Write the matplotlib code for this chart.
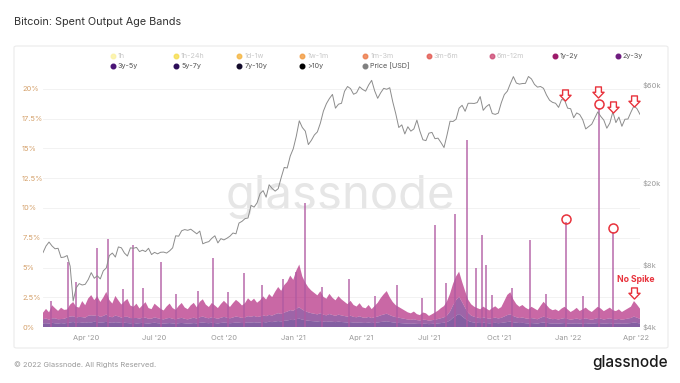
import pandas as pd
import matplotlib
matplotlib.use('Agg')
import matplotlib.pyplot as plt
from matplotlib.lines import Line2D
from matplotlib.path import Path
from matplotlib.patches import FancyBboxPatch
from matplotlib.ticker import FixedLocator, NullLocator

plt.rcParams['font.family'] = ['Inter', 'DejaVu Sans']

# ---- DATA ----
start_date = '2020-02-04'   # first sample, one sample every 4 days

price_usd = [
    9200, 9900, 10350, 9900, 9600, 9650, 8700,
    8750, 8900, 7900, 5350, 6200, 6500, 6400, 6450,
    6800, 7350, 6900, 7100, 6850, 7500, 7750,
    8900, 9150, 8750, 9800, 9700, 9150, 8850, 9700,
    9650, 9750, 9300, 9450, 9300, 9650, 9000,
    9220, 9070, 9230, 9250, 9150, 9380, 9700, 11100,
    11050, 11750, 11900, 11800, 11950, 11650, 11350, 11700,
    10150, 10300, 10400, 10800, 11100, 10250, 10750,
    10600, 10800, 11050, 11450, 11350, 12800, 13050, 13450,
    13550, 15600, 15300, 16050, 17800, 18400, 17100, 19650,
    18850, 18300, 18800, 21300, 23850, 23700, 27100,
    29400, 33800, 40200, 37300, 35800, 30800, 32300, 34300,
    35500, 39200, 44800, 48700, 51600, 54000, 46300,
    48400, 48900, 55900, 59000, 57600, 54100, 55000, 58800,
    57100, 56000, 60000, 63200, 56200, 51700, 55000,
    57800, 57200, 58200, 49700, 43500, 37300, 38400, 34700,
    37600, 35800, 36700, 40500, 35800, 32500, 32200, 35000,
    35300, 32900, 33100, 31500, 29800, 34300, 40000,
    39900, 40900, 46300, 47800, 44700, 48900, 48900, 48800,
    49300, 52700, 45200, 47100, 48300, 43600, 43200, 43800,
    49200, 53900, 56000, 60900, 65900, 61300, 60600,
    61000, 61100, 66000, 64200, 60400, 58600, 59000, 57800,
    53600, 50600, 49400, 48900, 46700, 51000, 50600, 46300,
    46000, 41600, 43900, 43100, 40700, 36700, 37700,
    38700, 41400, 44400, 42200, 40500, 37000, 39200,
    44400, 39400, 41900, 37800, 40900, 41000, 44300, 47500,
    46000, 43200,
]

# share of spent outputs per age band, % (same 4-day samples)
age_1y_2y = [
    0.55, 0.80, 0.62, 1.10, 0.85, 0.70, 0.95, 0.75, 0.68, 1.00,
    1.20, 0.90, 0.78, 1.35, 1.05, 1.45, 1.70, 1.30, 1.60, 1.25,
    1.55, 1.90, 1.40, 1.15, 1.65, 1.35, 1.10, 1.30, 1.50, 1.05,
    0.95, 1.20, 0.85, 1.05, 1.30, 0.90, 0.80, 1.15, 1.00, 0.85,
    0.75, 1.00, 1.20, 0.90, 0.80, 1.05, 1.25, 0.95, 0.85, 1.10,
    1.25, 0.95, 1.30, 1.45, 1.10, 0.95, 1.20, 1.05, 0.90, 1.15,
    1.35, 1.15, 0.95, 1.20, 1.40, 1.25, 1.05, 1.20, 1.50, 1.30,
    1.45, 1.20, 1.35, 1.60, 1.40, 1.75, 1.55, 1.90, 2.20, 1.95,
    2.30, 2.50, 2.90, 2.60, 3.20, 3.60, 2.80, 2.40, 2.10, 1.90,
    1.75, 1.60, 1.85, 1.50, 1.40, 1.70, 1.45, 1.30, 1.55, 1.35,
    1.20, 1.05, 1.25, 1.00, 0.90, 1.10, 0.85, 0.80, 1.00, 0.75,
    0.95, 1.15, 1.45, 1.70, 1.90, 1.50, 1.20, 1.00, 0.90, 0.80,
    0.70, 0.60, 0.55, 0.65, 0.50, 0.45, 0.60, 0.55, 0.40, 0.50,
    0.60, 0.70, 0.85, 0.95, 1.20, 1.50, 1.80, 2.00, 2.10, 1.70,
    1.40, 1.10, 0.95, 0.85, 0.80, 0.75, 0.90, 0.80, 0.70, 0.85,
    0.95, 0.80, 0.90, 1.30, 1.70, 1.85, 1.40, 1.10, 0.95, 1.05,
    0.90, 0.80, 0.95, 0.85, 0.75, 1.00, 1.25, 1.05, 0.85, 0.75,
    0.80, 0.70, 0.85, 0.95, 0.80, 0.65, 0.75, 0.90, 0.70, 0.80,
    0.90, 0.75, 0.65, 0.80, 0.95, 0.85, 0.70, 0.80, 0.90, 0.75,
    0.70, 0.80, 0.65, 0.75, 0.85, 0.95, 1.30, 1.10, 0.85,
]
age_2y_3y = [
    0.35, 0.40, 0.33, 0.38, 0.42, 0.36, 0.34, 0.39, 0.45, 0.50,
    0.48, 0.44, 0.52, 0.46, 0.43, 0.55, 0.60, 0.52, 0.58, 0.49,
    0.54, 0.62, 0.50, 0.47, 0.56, 0.51, 0.45, 0.49, 0.53, 0.44,
    0.41, 0.46, 0.39, 0.43, 0.48, 0.40, 0.37, 0.45, 0.42, 0.38,
    0.36, 0.41, 0.44, 0.39, 0.35, 0.40, 0.43, 0.38, 0.36, 0.42,
    0.45, 0.40, 0.47, 0.50, 0.44, 0.41, 0.46, 0.43, 0.39, 0.44,
    0.48, 0.45, 0.41, 0.46, 0.50, 0.47, 0.43, 0.46, 0.52, 0.49,
    0.53, 0.48, 0.51, 0.56, 0.52, 0.58, 0.55, 0.61, 0.66, 0.62,
    0.70, 0.74, 0.82, 0.78, 0.88, 0.95, 0.84, 0.76, 0.70, 0.66,
    0.63, 0.60, 0.66, 0.58, 0.55, 0.62, 0.57, 0.53, 0.59, 0.55,
    0.52, 0.49, 0.54, 0.48, 0.46, 0.51, 0.45, 0.43, 0.48, 0.42,
    0.46, 0.50, 0.56, 0.60, 0.64, 0.57, 0.51, 0.47, 0.44, 0.41,
    0.38, 0.35, 0.33, 0.36, 0.32, 0.30, 0.34, 0.33, 0.29, 0.31,
    0.34, 0.37, 0.41, 0.45, 0.55, 0.75, 1.05, 1.30, 1.45, 1.20,
    0.92, 0.68, 0.54, 0.48, 0.44, 0.41, 0.45, 0.42, 0.38, 0.41,
    0.44, 0.40, 0.43, 0.50, 0.58, 0.62, 0.52, 0.46, 0.42, 0.45,
    0.41, 0.38, 0.42, 0.39, 0.36, 0.43, 0.49, 0.45, 0.40, 0.37,
    0.38, 0.35, 0.39, 0.42, 0.38, 0.34, 0.37, 0.40, 0.36, 0.38,
    0.41, 0.37, 0.34, 0.38, 0.42, 0.39, 0.35, 0.38, 0.41, 0.37,
    0.36, 0.38, 0.34, 0.37, 0.40, 0.43, 0.50, 0.44, 0.39,
]
age_3y_5y = [
    0.30, 0.32, 0.28, 0.35, 0.31, 0.29, 0.33, 0.30, 0.34, 0.38,
    0.42, 0.36, 0.33, 0.37, 0.35, 0.40, 0.38, 0.44, 0.41, 0.36,
    0.39, 0.43, 0.37, 0.35, 0.40, 0.38, 0.34, 0.36, 0.33, 0.31,
    0.34, 0.30, 0.32, 0.35, 0.31, 0.29, 0.33, 0.36, 0.32, 0.30,
    0.28, 0.31, 0.33, 0.30, 0.29, 0.32, 0.34, 0.31, 0.28, 0.30,
    0.33, 0.31, 0.35, 0.38, 0.34, 0.32, 0.36, 0.33, 0.30, 0.34,
    0.37, 0.35, 0.32, 0.34, 0.38, 0.36, 0.33, 0.35, 0.39, 0.37,
    0.40, 0.36, 0.38, 0.42, 0.39, 0.44, 0.41, 0.46, 0.50, 0.47,
    0.52, 0.55, 0.60, 0.58, 0.66, 0.70, 0.62, 0.57, 0.53, 0.50,
    0.48, 0.46, 0.50, 0.45, 0.43, 0.47, 0.44, 0.41, 0.45, 0.42,
    0.40, 0.38, 0.41, 0.37, 0.36, 0.39, 0.35, 0.34, 0.37, 0.33,
    0.36, 0.38, 0.42, 0.45, 0.48, 0.43, 0.39, 0.36, 0.34, 0.32,
    0.30, 0.28, 0.27, 0.29, 0.26, 0.25, 0.28, 0.27, 0.24, 0.26,
    0.28, 0.30, 0.33, 0.36, 0.42, 0.55, 0.78, 0.95, 1.10, 0.90,
    0.70, 0.52, 0.42, 0.38, 0.35, 0.33, 0.36, 0.34, 0.31, 0.33,
    0.35, 0.32, 0.34, 0.38, 0.42, 0.45, 0.40, 0.36, 0.33, 0.35,
    0.32, 0.30, 0.33, 0.31, 0.29, 0.34, 0.38, 0.35, 0.31, 0.29,
    0.30, 0.28, 0.31, 0.33, 0.30, 0.27, 0.29, 0.31, 0.28, 0.30,
    0.32, 0.29, 0.27, 0.30, 0.33, 0.31, 0.28, 0.30, 0.32, 0.29,
    0.28, 0.30, 0.27, 0.29, 0.31, 0.33, 0.38, 0.34, 0.30,
]

# single-day spikes (%)
spike_dates = ['2020-02-14', '2020-03-08', '2020-03-19', '2020-04-16', '2020-04-30',
               '2020-05-20', '2020-06-02', '2020-06-15', '2020-07-09', '2020-07-30',
               '2020-08-27', '2020-09-16', '2020-10-06', '2020-10-28', '2020-11-20',
               '2020-12-19', '2021-01-04', '2021-01-16', '2021-02-08', '2021-03-16',
               '2021-04-20', '2021-05-19', '2021-06-21', '2021-07-08', '2021-07-22',
               '2021-08-03', '2021-08-19', '2021-08-31', '2021-09-08', '2021-09-14',
               '2021-09-22', '2021-10-18', '2021-11-11', '2021-12-02', '2021-12-29',
               '2022-01-21', '2022-02-10', '2022-03-01']
spike_pct = [2.2, 5.5, 3.8, 6.6, 7.4,
             3.2, 6.9, 3.3, 5.5, 2.8,
             3.0, 5.8, 2.9, 4.5, 3.5,
             4.0, 4.6, 10.4, 3.4, 4.0,
             2.6, 3.5, 2.4, 8.6, 3.7,
             9.5, 15.7, 5.0, 7.7, 5.2,
             2.7, 3.3, 7.3, 2.8, 8.8,
             2.6, 18.4, 8.0]

# red hand-drawn marks
circle_dates = ['2021-12-29', '2022-02-10', '2022-03-01']
circle_pct = [9.1, 18.7, 8.3]
arrow_dates = ['2021-12-28', '2022-02-09', '2022-03-01', '2022-03-29']
arrow_price = [53600, 55500, 46900, 50200]

legend_labels = ['1h', '1h-24h', '1d-1w', '1w-1m', '1m-3m', '3m-6m', '6m-12m', '1y-2y', '2y-3y',
                 '3y-5y', '5y-7y', '7y-10y', '>10y', 'Price [USD]']
legend_colors = ['#fbf1a0', '#f6dc4c', '#f4b43e', '#f29a3e', '#ec7846', '#e2564e', '#cc4a74',
                 '#9c1a6a', '#6f1c7f', '#4a1476', '#2c0e58', '#120a2a', '#000000', '#808080']
legend_active = [False] * 7 + [True] * 7

x_ticks = ['2020-04-01', '2020-07-01', '2020-10-01', '2021-01-01', '2021-04-01',
           '2021-07-01', '2021-10-01', '2022-01-01', '2022-04-01']
x_ticklabels = ["Apr '20", "Jul '20", "Oct '20", "Jan '21", "Apr '21",
                "Jul '21", "Oct '21", "Jan '22", "Apr '22"]
pct_ticks = [0, 2.5, 5, 7.5, 10, 12.5, 15, 17.5, 20]
pct_ticklabels = ['0%', '2.5%', '5%', '7.5%', '10%', '12.5%', '15%', '17.5%', '20%']
price_ticks = [4000, 8000, 20000, 60000]
price_ticklabels = ['$4k', '$8k', '$20k', '$60k']

RED = '#e8323c'
W, H = 680, 383

price_dates = pd.date_range(start_date, periods=len(price_usd), freq='4D')
band_dates = pd.date_range(start_date, periods=len(age_1y_2y), freq='4D')

# hollow "down" arrow used as a marker
down_arrow = Path([(-0.26, 0.5), (0.26, 0.5), (0.26, 0.02), (0.5, 0.02), (0.0, -0.5),
                   (-0.5, 0.02), (-0.26, 0.02), (-0.26, 0.5)],
                  [Path.MOVETO] + [Path.LINETO] * 6 + [Path.CLOSEPOLY])

# ---- FIGURE ----
fig = plt.figure(figsize=(W / 100, H / 100), dpi=100)
fig.patches.append(FancyBboxPatch((14 / W, 1 - 348 / H), 654 / W, 302 / H,
                                  boxstyle='round,pad=0,rounding_size=0.004',
                                  transform=fig.transFigure, facecolor='white',
                                  edgecolor='#ebebeb', linewidth=0.8, zorder=-1))

fig.text(14 / W, 1 - 22 / H, 'Bitcoin: Spent Output Age Bands', fontsize=7.8,
         color='#333333', va='center', ha='left')
fig.text(14 / W, 1 - 365 / H, '\u00a9 2022 Glassnode. All Rights Reserved.', fontsize=5.4,
         color='#9a9a9a', va='center', ha='left')
fig.text(668 / W, 1 - 363 / H, 'glassnode', fontsize=11, color='#1a1a1a',
         va='center', ha='right', fontweight='medium')

# legend
for i, (lab, col, act) in enumerate(zip(legend_labels, legend_colors, legend_active)):
    row, c = divmod(i, 9)
    lx = 113 + 63.1 * c
    ly = 56 + 10 * row
    fig.add_artist(Line2D([lx / W], [1 - ly / H], marker='o', ms=3.3, color=col,
                          alpha=1.0 if act else 0.8, transform=fig.transFigure))
    fig.text((lx + 5) / W, 1 - ly / H, lab, fontsize=5.2,
             color='#555555' if act else '#c8c8c8', va='center', ha='left')

ax = fig.add_axes([43 / W, 1 - 327 / H, 597 / W, 254 / H])
ax.set_xlim(pd.Timestamp('2020-02-04'), pd.Timestamp('2022-04-06'))
ax.set_ylim(0, 254 / 11.9)

ax.text(340 / W, 1 - 197 / H, 'glassnode', transform=fig.transFigure, fontsize=34,
        color='#e6e6e6', ha='center', va='center', zorder=0.5)

ax.stackplot(band_dates, age_3y_5y, age_2y_3y, age_1y_2y,
             colors=['#4a1476', '#6f1c7f', '#b0207a'], alpha=0.68, linewidth=0, zorder=1)
ax.vlines(pd.to_datetime(spike_dates), 0, spike_pct, color='#b05aa2', lw=1.1,
          alpha=0.9, zorder=2)

ax.plot(pd.to_datetime(circle_dates), circle_pct, 'o', mfc='none', mec=RED, ms=6.5,
        mew=1.1, zorder=6)
ax.text(pd.Timestamp('2022-04-01'), 3.95, 'No Spike', color=RED, fontsize=6.2,
        fontweight='bold', ha='center', va='center', zorder=6)
ax.plot([pd.Timestamp('2022-03-29')], [2.85], marker=down_arrow, ls='none', ms=8,
        mfc='white', mec=RED, mew=1.0, zorder=6)

ax.yaxis.set_major_locator(FixedLocator(pct_ticks))
ax.set_yticklabels(pct_ticklabels)
for lab in ax.get_yticklabels():
    lab.set_horizontalalignment('left')
ax.tick_params(axis='y', length=0, pad=15, labelsize=5.4, labelcolor='#d4a06a')
ax.set_xticks(pd.to_datetime(x_ticks))
ax.set_xticklabels(x_ticklabels)
ax.tick_params(axis='x', length=0, pad=6, labelsize=5.4, labelcolor='#999999')
ax.grid(axis='y', color='#f0f0f0', lw=0.6)
ax.set_axisbelow(True)
for s in ax.spines.values():
    s.set_visible(False)

# price on log axis
ax2 = ax.twinx()
ax2.set_yscale('log')
ax2.set_ylim(4000, 4000 * 10 ** (254 / 242 * 1.176091))
ax2.plot(price_dates, price_usd, color='#8c8c8c', lw=0.7, zorder=3)
ax2.plot(pd.to_datetime(arrow_dates), arrow_price, marker=down_arrow, ls='none', ms=8,
         mfc='white', mec=RED, mew=1.0, zorder=6)
ax2.yaxis.set_major_locator(FixedLocator(price_ticks))
ax2.yaxis.set_minor_locator(NullLocator())
ax2.set_yticklabels(price_ticklabels)
ax2.tick_params(axis='y', length=0, pad=2, labelsize=5.4, labelcolor='#999999')
for s in ax2.spines.values():
    s.set_visible(False)

fig.savefig('out.png', dpi=100)
